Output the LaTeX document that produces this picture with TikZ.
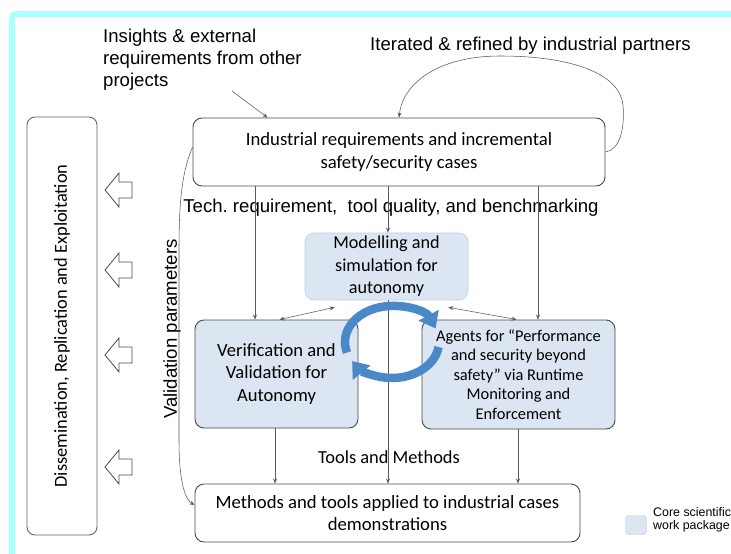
\documentclass[tikz,border=0pt]{standalone}
\usepackage{fontspec}
\setmainfont{Carlito}
\newfontfamily\arialfont{Liberation Sans}
\usetikzlibrary{arrows.meta,calc}
\definecolor{framecyan}{HTML}{AAFFFF}
\definecolor{boxline}{HTML}{4A4A4A}
\definecolor{corefill}{HTML}{DCE6F2}
\definecolor{softline}{HTML}{BFD0E6}
\definecolor{connline}{HTML}{5A5A5A}
\definecolor{ringblue}{HTML}{4A88C8}
\newcommand\setfs[2]{\fontsize{#1}{#2}\selectfont}
\frenchspacing
\begin{document}
\begin{tikzpicture}[x=1pt,y=-1pt,
  plainbox/.style={draw=boxline, line width=0.9pt, rounded corners=9pt, fill=white,
    inner sep=0pt, align=center, font=\setfs{18.7}{22.5}},
  corebox/.style={plainbox, fill=corefill},
  softbox/.style={corebox, draw=softline, line width=0.6pt},
  conn/.style={draw=connline, line width=0.55pt, -{Stealth[length=5pt,width=4pt]}},
  conntwo/.style={draw=connline, line width=0.55pt, {Stealth[length=5pt,width=4pt]}-{Stealth[length=5pt,width=4pt]}},
  label/.style={font=\arialfont\setfs{18.6}{22}, inner sep=0pt, align=left},
  blockarr/.style={draw=boxline, line width=0.8pt, fill=white, line join=miter},
  ring/.style={draw=ringblue, line width=8.5pt, -{Triangle[length=15pt,width=22pt]}}]
\useasboundingbox (0,0) rectangle (731,554);
\clip (0,0) rectangle (731,554);
\fill[white] (0,0) rectangle (731,554);

% cyan page frame
\draw[framecyan, line width=6pt, rounded corners=4pt] (12,560) -- (12,14) -- (740,14);

% free labels
\node[label, anchor=west] (ins) at (103,60) {Insights \& external\\requirements from other\\projects};
\node[label, anchor=west] (iter) at (370,46) {Iterated \& refined by industrial partners};

% main boxes
\node[plainbox, minimum width=412pt, minimum height=68pt] (req) at (399,152)
  {Industrial requirements and incremental\\safety/security cases};
\node[softbox, minimum width=163pt, minimum height=67pt, font=\setfs{18.2}{22.5}] (ms) at (386.5,266.5)
  {Modelling and\\simulation for\\autonomy};
\node[corebox, minimum width=163pt, minimum height=108pt, font=\setfs{18.6}{22.5}] (vv) at (276.5,374)
  {Verification and\\Validation for\\Autonomy};
\node[corebox, minimum width=193pt, minimum height=109pt, font=\setfs{16.4}{19.5}] (ag) at (518.5,374.5)
  {Agents for ``Performance\\and security beyond\\safety'' via Runtime\\Monitoring and\\Enforcement};
\node[plainbox, minimum width=385pt, minimum height=58pt] (demo) at (387.5,513)
  {Methods and tools applied to industrial cases\\demonstrations};
\node[plainbox, draw=boxline!85, rounded corners=8pt, rotate=90, minimum width=418pt, minimum height=70pt,
  font=\setfs{18.4}{22}] (dis) at (62,326)
  {Dissemination, Replication and Exploitation};

% connector labels
\node[label] (tech) at (391,208) {Tech. requirement,\ \ tool quality, and benchmarking};
\node[font=\setfs{18.4}{20}, inner sep=0pt] (tm) at (389,457) {Tools and Methods};
\node[label, rotate=90] (vp) at (172,329) {Validation parameters};

% column positions of the vertical connectors
\coordinate (xa) at (255,0);
\coordinate (xb) at (388,0);
\coordinate (xc) at (538,0);
\coordinate (xd) at (275,0);
\coordinate (xe) at (518,0);

\draw[conn] (req.south -| xa) -- (vv.north -| xa);
\draw[conn] (req.south -| xb) -- (ms.north -| xb);
\draw[conn] (req.south -| xc) -- (ag.north -| xc);
\draw[conn] (vv.south -| xd) -- (demo.north -| xd);
\draw[conn] (ms.south -| xb) -- (demo.north -| xb);
\draw[conn] (ag.south -| xe) -- (demo.north -| xe);

% links between the core work packages
\draw[conntwo] ($(vv.north west)+(85,0)$) -- ($(ms.south west)+(30,7)$);
\draw[conntwo] ($(ms.south east)+(-20,7)$) -- ($(ag.north west)+(95,0)$);

% external input and iteration loop
\coordinate (insend) at (232,91);
\draw[conn] (insend) -- ($(req.north west)+(75,0)$);
\draw[conn] (req.east) .. controls (620,150) and (625,128) .. (623,105)
  .. controls (620,75) and (575,56) .. (500,56)
  .. controls (440,56) and (403,82) .. (req.north);

% validation parameters feedback
\draw[conn] ($(req.west)+(0,-5)$) .. controls (183,170) and (179,195) .. (179,250)
  -- (179,440) .. controls (179,485) and (186,500) .. ($(demo.west)+(0,-8)$);

% circular arrows around the core
\coordinate (rc) at (392,342);
\draw[ring] (rc) ++(163:47 and 36) arc[start angle=163, end angle=338, x radius=47, y radius=36];
\draw[ring] (rc) ++(8:47 and 36) arc[start angle=8, end angle=148, x radius=47, y radius=36];

% hollow block arrows towards dissemination
\foreach \c in {190,270,355,467}
  \draw[blockarr] (105,\c) -- (119,\c-17) -- (119,\c-8) -- (132,\c-8) -- (132,\c+8)
    -- (119,\c+8) -- (119,\c+17) -- cycle;

% legend
\node[draw=softline, fill=corefill, rounded corners=3pt, minimum width=21pt, minimum height=19pt, inner sep=0pt] (key) at (636,525) {};
\node[font=\arialfont\setfs{12.4}{13.2}, anchor=west, align=left, inner sep=0pt] (keytext) at (653,520) {Core scientific\\work package};
\end{tikzpicture}
\end{document}
